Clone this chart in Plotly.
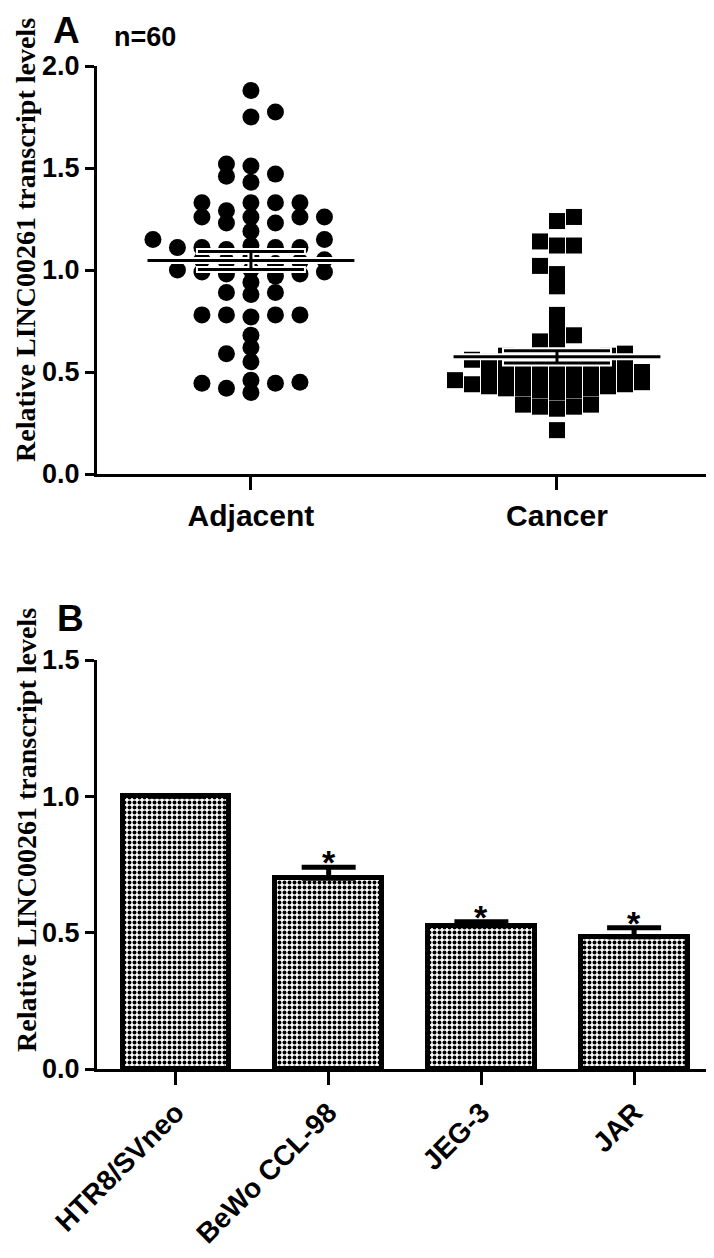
import numpy as np
import plotly.graph_objects as go

# ---------------- data ----------------
groups_a = ["Adjacent", "Cancer"]
adjacent = [1.88, 1.75, 1.775, 1.51, 1.52, 1.46, 1.43, 1.47,
            1.33, 1.33, 1.33, 1.33, 1.29, 1.26, 1.26, 1.26, 1.23, 1.23, 1.26,
            1.19, 1.15, 1.15,
            1.10, 1.12, 1.11, 1.11, 1.11, 1.11,
            1.03, 1.04, 1.05, 1.05, 1.06, 1.04,
            0.97, 0.98, 0.99, 1.00, 0.98, 0.99, 1.00,
            0.94, 0.89, 0.88, 0.89,
            0.78, 0.78, 0.78, 0.78, 0.77, 0.68, 0.59, 0.62, 0.55,
            0.45, 0.445, 0.40, 0.42, 0.445, 0.46]
cancer = [1.26, 1.24, 1.14, 1.12, 1.12, 1.02, 0.98, 0.92, 0.78, 0.72, 0.68, 0.65, 0.65,
          0.215, 0.33, 0.34, 0.33, 0.32, 0.34,
          0.60, 0.59, 0.58, 0.58, 0.57, 0.57, 0.56, 0.56, 0.56, 0.55, 0.55,
          0.54, 0.53, 0.53, 0.52, 0.52, 0.51, 0.51, 0.50, 0.50, 0.50,
          0.49, 0.48, 0.48, 0.47, 0.47, 0.46, 0.46, 0.46, 0.45, 0.45,
          0.44, 0.44, 0.43, 0.43, 0.42, 0.42, 0.42, 0.41, 0.41, 0.40]
n_label = "n=60"

cell_lines = ["HTR8/SVneo", "BeWo CCL-98", "JEG-3", "JAR"]
cell_means = [1.00, 0.70, 0.525, 0.485]
cell_sems = [0.0, 0.04, 0.015, 0.033]
cell_marks = ["", "*", "*", "*"]

y_ticks_a = [0.0, 0.5, 1.0, 1.5, 2.0]
y_ticks_b = [0.0, 0.5, 1.0, 1.5]
y_title = "Relative LINC00261 transcript levels"

# ---------------- geometry / style ----------------
OFF = 8                      # default page body margin
W, H = 714 - OFF, 1258 - OFF
ML, MR = 97 - OFF, 4
PW = W - ML - MR
A_TOP, A_BOT = 66, 474       # screen px
B_TOP, B_BOT = 660, 1069
XR_A = [-0.503, 1.5]
XR_B = [-0.517, 3.497]
YR_A = [0, 2.0]
YR_B = [0, 1.5]
SANS = "Liberation Sans, Arial, sans-serif"
SERIF = "Liberation Serif, Times New Roman, serif"


def px_x(p):
    return (p - OFF - ML) / PW


def px_y(p):
    return 1 - (p - OFF) / H


x_px_a = PW / (XR_A[1] - XR_A[0])
y_px_a = (A_BOT - A_TOP) / (YR_A[1] - YR_A[0])


def swarm(values, center, cell_px, gap_px):
    vals = np.asarray(values, dtype=float)
    order = np.argsort(vals, kind="stable")
    placed = {}
    xs = np.zeros(len(vals))
    left = right = 0
    for i in order:
        yp = vals[i] * y_px_a
        k = 0
        col = 0
        while True:
            if k == 0:
                cands = [0]
            else:
                cands = [-k, k] if left <= right else [k, -k]
            found = False
            for c in cands:
                if all(abs(yp - q) >= gap_px for q in placed.get(c, [])):
                    col = c
                    found = True
                    break
            if found:
                break
            k += 1
        if col < 0:
            left += 1
        elif col > 0:
            right += 1
        placed.setdefault(col, []).append(yp)
        xs[i] = center + col * cell_px / x_px_a
    return xs


fig = go.Figure()

# ---- Panel A scatter ----
xa = swarm(adjacent, 0, 24.5, 11)
xc = swarm(cancer, 1, 17, 10)
fig.add_trace(go.Scatter(x=xa, y=adjacent, mode="markers", xaxis="x", yaxis="y",
                         marker=dict(symbol="circle", size=17, color="black"),
                         cliponaxis=False, showlegend=False))
fig.add_trace(go.Scatter(x=xc, y=cancer, mode="markers", xaxis="x", yaxis="y",
                         marker=dict(symbol="square", size=16, color="black"),
                         cliponaxis=False, showlegend=False))

MEAN_HALF = 0.338
for i, vals in enumerate([adjacent, cancer]):
    m = float(np.mean(vals))
    s = float(np.std(vals, ddof=1) / np.sqrt(len(vals)))
    for col, lw, ew, eth in [("white", 7, 55, 7), ("black", 3, 53, 3)]:
        fig.add_trace(go.Scatter(x=[i - MEAN_HALF, i + MEAN_HALF], y=[m, m], mode="lines",
                                 xaxis="x", yaxis="y", line=dict(color=col, width=lw),
                                 showlegend=False, hoverinfo="skip"))
        fig.add_trace(go.Scatter(x=[i], y=[m], mode="markers", xaxis="x", yaxis="y",
                                 marker=dict(size=1, color="rgba(0,0,0,0)"),
                                 error_y=dict(type="data", array=[s], color=col,
                                              thickness=eth, width=ew),
                                 showlegend=False, hoverinfo="skip"))

# ---- Panel B bars ----
xb = list(range(len(cell_lines)))
fig.add_trace(go.Bar(x=xb, y=cell_means, width=0.70, xaxis="x2", yaxis="y2",
                     marker=dict(color="white", line=dict(color="black", width=5),
                                 pattern=dict(shape=".", fgcolor="black", bgcolor="white",
                                              size=5, solidity=0.5, fillmode="replace")),
                     error_y=dict(type="data", array=cell_sems, arrayminus=[0] * len(cell_sems),
                                  symmetric=False, color="black", thickness=5, width=27),
                     showlegend=False))

annotations = []
for i, (m, s, t) in enumerate(zip(cell_means, cell_sems, cell_marks)):
    if t:
        annotations.append(dict(x=i, y=m + s, xref="x2", yref="y2", text=t, showarrow=False,
                                yanchor="bottom", yshift=-16,
                                font=dict(family=SANS, size=34, color="black", weight="bold")))

annotations += [
    dict(x=px_x(66), y=px_y(31), xref="paper", yref="paper", text="A", showarrow=False,
         xanchor="center", yanchor="middle",
         font=dict(family=SANS, size=37, color="black", weight="bold")),
    dict(x=px_x(70), y=px_y(618), xref="paper", yref="paper", text="B", showarrow=False,
         xanchor="center", yanchor="middle",
         font=dict(family=SANS, size=37, color="black", weight="bold")),
    dict(x=px_x(145), y=px_y(37), xref="paper", yref="paper", text=n_label, showarrow=False,
         xanchor="center", yanchor="middle",
         font=dict(family=SANS, size=27, color="black", weight="bold")),
    dict(x=px_x(26), y=px_y(240), xref="paper", yref="paper", text=y_title, showarrow=False,
         textangle=-90, xanchor="center", yanchor="middle",
         font=dict(family=SERIF, size=28, color="black", weight="bold")),
    dict(x=px_x(26), y=px_y(830), xref="paper", yref="paper", text=y_title, showarrow=False,
         textangle=-90, xanchor="center", yanchor="middle",
         font=dict(family=SERIF, size=28, color="black", weight="bold")),
]

axis_common = dict(showline=True, linecolor="black", linewidth=3, ticks="outside",
                   tickcolor="black", tickwidth=3, showgrid=False, zeroline=False,
                   automargin=False)

fig.update_layout(
    width=W, height=H,
    margin=dict(l=ML, r=MR, t=0, b=0, pad=0),
    paper_bgcolor="white", plot_bgcolor="white",
    bargap=0,
    xaxis=dict(domain=[0, 1], range=XR_A, anchor="y", tickvals=[0, 1], ticktext=groups_a,
               ticklen=13, tickfont=dict(family=SANS, size=30, color="black", weight="bold"),
               **axis_common),
    yaxis=dict(domain=[px_y(A_BOT), px_y(A_TOP)], range=YR_A, anchor="x",
               tickvals=y_ticks_a, tickformat=".1f", ticklen=9,
               tickfont=dict(family=SANS, size=27, color="black", weight="bold"),
               **axis_common),
    xaxis2=dict(domain=[0, 1], range=XR_B, anchor="y2", tickvals=xb, ticktext=cell_lines,
                tickangle=-45, ticklen=13,
                tickfont=dict(family=SANS, size=28, color="black", weight="bold"),
                **axis_common),
    yaxis2=dict(domain=[px_y(B_BOT), px_y(B_TOP)], range=YR_B, anchor="x2",
                tickvals=y_ticks_b, tickformat=".1f", ticklen=9,
                tickfont=dict(family=SANS, size=27, color="black", weight="bold"),
                **axis_common),
    annotations=annotations,
)

fig.write_html("out.html")
